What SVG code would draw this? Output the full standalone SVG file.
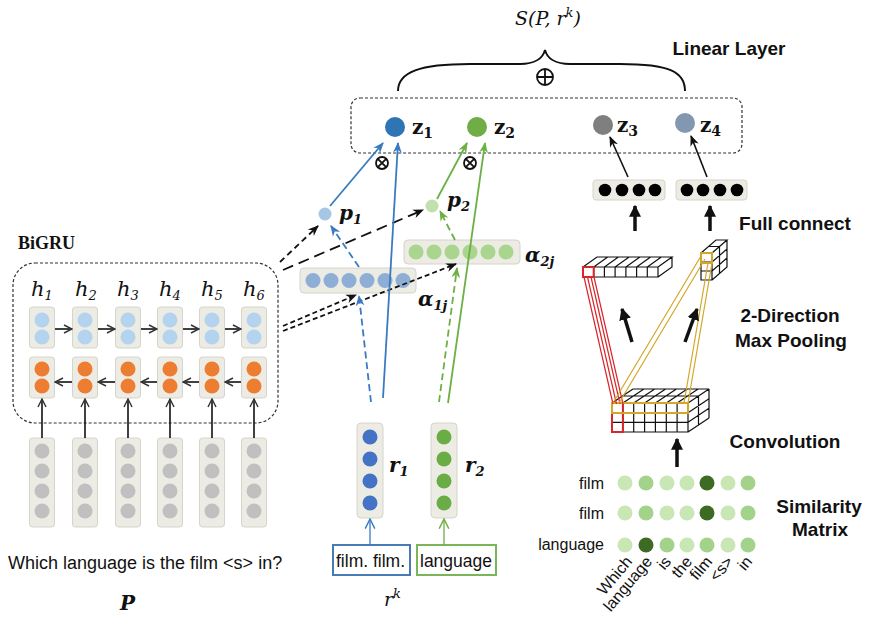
<svg xmlns="http://www.w3.org/2000/svg" width="885" height="637" viewBox="0 0 885 637">
<defs>
<style>
.bx{fill:#ecebe4;stroke:#d6d4cb;stroke-width:1}
.lb{fill:#b4d3ee}.or{fill:#ed7d31}.gy{fill:#c0c0c0}
.dash{fill:none;stroke:#333;stroke-width:1.2;stroke-dasharray:3,2}
.lbl{font-family:"Liberation Sans",Arial,sans-serif;font-weight:bold;font-size:19px;fill:#111;text-anchor:middle}
.sans{font-family:"Liberation Sans",Arial,sans-serif;fill:#111}
.mi{font-family:"DejaVu Serif","Liberation Serif",serif;font-style:italic;fill:#111}
.mb{font-family:"DejaVu Serif","Liberation Serif",serif;font-weight:bold;fill:#111}
.tb{font-family:"Liberation Serif","Times New Roman",serif;font-weight:bold;fill:#111}
.grid{fill:none;stroke:#111;stroke-width:1.2}
.k{stroke:#111;stroke-width:1.6;fill:none}
.kd{stroke:#111;stroke-width:1.8;fill:none}
.bl{stroke:#3a7bc0;stroke-width:1.8;fill:none}
.gr{stroke:#6db044;stroke-width:1.8;fill:none}
.thick{stroke:#111;stroke-width:3.5;fill:none}
.red{stroke:#d9262b;stroke-width:1.2;fill:none}
.org{stroke:#d4a62a;stroke-width:1.2;fill:none}
</style>
<marker id="ak" viewBox="0 0 10 10" refX="9" refY="5" markerWidth="11" markerHeight="11" markerUnits="userSpaceOnUse" orient="auto"><path d="M0,1 L10,5 L0,9 L3,5 z" fill="#111"/></marker>
<marker id="ab" viewBox="0 0 10 10" refX="9" refY="5" markerWidth="11" markerHeight="11" markerUnits="userSpaceOnUse" orient="auto"><path d="M0,1 L10,5 L0,9 L3,5 z" fill="#3a7bc0"/></marker>
<marker id="ag" viewBox="0 0 10 10" refX="9" refY="5" markerWidth="11" markerHeight="11" markerUnits="userSpaceOnUse" orient="auto"><path d="M0,1 L10,5 L0,9 L3,5 z" fill="#6db044"/></marker>
<marker id="ao" viewBox="0 0 10 10" refX="9" refY="5" markerWidth="10" markerHeight="10" markerUnits="userSpaceOnUse" orient="auto"><path d="M1,1 L9,5 L1,9" fill="none" stroke="#333" stroke-width="1.4"/></marker>
<marker id="aob" viewBox="0 0 10 10" refX="9" refY="5" markerWidth="12" markerHeight="12" markerUnits="userSpaceOnUse" orient="auto"><path d="M1,1 L9,5 L1,9" fill="none" stroke="#3a7bc0" stroke-width="1.2"/></marker>
<marker id="aog" viewBox="0 0 10 10" refX="9" refY="5" markerWidth="12" markerHeight="12" markerUnits="userSpaceOnUse" orient="auto"><path d="M1,1 L9,5 L1,9" fill="none" stroke="#6db044" stroke-width="1.2"/></marker>
<marker id="at" viewBox="0 0 10 10" refX="9" refY="5" markerWidth="12" markerHeight="12" markerUnits="userSpaceOnUse" orient="auto"><path d="M0,0 L10,5 L0,10 z" fill="#111"/></marker>
</defs>
<rect width="885" height="637" fill="#fff"/>

<!-- Top: output -->
<g id="output">
<text class="mi" x="548" y="25" font-size="19" text-anchor="middle">S(P, r<tspan font-size="13" dy="-8">k</tspan><tspan dy="8">)</tspan></text>
<path d="M398,91 C398,72 420,64 470,64 L520,64 C535,64 543,58 545,50 C547,58 555,64 570,64 L620,64 C670,64 685,72 685,91" fill="none" stroke="#111" stroke-width="2"/>
<circle cx="545" cy="77" r="8" fill="none" stroke="#111" stroke-width="1.8"/>
<path d="M537,77 H553 M545,69 V85" stroke="#111" stroke-width="1.8"/>
<text class="lbl" x="729" y="55">Linear Layer</text>
</g>

<g id="linear-layer">
<rect x="351" y="98" width="391" height="55" rx="9" class="dash"/>
<circle cx="395" cy="127" r="10" fill="#2e75b6"/>
<text class="mb" x="412" y="134" font-size="20">z<tspan font-size="14" dy="4">1</tspan></text>
<circle cx="477" cy="127" r="10" fill="#70ad47"/>
<text class="mb" x="494" y="134" font-size="20">z<tspan font-size="14" dy="4">2</tspan></text>
<circle cx="603" cy="125" r="10" fill="#7f7f7f"/>
<text class="mb" x="617" y="132" font-size="20">z<tspan font-size="14" dy="4">3</tspan></text>
<circle cx="685" cy="123" r="10" fill="#8497b0"/>
<text class="mb" x="700" y="132" font-size="20">z<tspan font-size="14" dy="4">4</tspan></text>
</g>

<g id="otimes">
<circle cx="382" cy="163" r="6" fill="#fff" stroke="#111" stroke-width="1.8"/>
<path d="M377.8,158.8 L386.2,167.2 M386.2,158.8 L377.8,167.2" stroke="#111" stroke-width="1.8"/>
<circle cx="470" cy="163" r="6" fill="#fff" stroke="#111" stroke-width="1.8"/>
<path d="M465.8,158.8 L474.2,167.2 M474.2,158.8 L465.8,167.2" stroke="#111" stroke-width="1.8"/>
</g>

<!-- BiGRU -->
<g id="bigru">
<text class="tb" x="18" y="249" font-size="18">BiGRU</text>
<rect x="13" y="263" width="265" height="160" rx="22" class="dash"/>
<g class="mi" font-size="21">
<text x="31" y="296">h<tspan font-size="13" dy="4">1</tspan></text>
<text x="75" y="296">h<tspan font-size="13" dy="4">2</tspan></text>
<text x="117" y="296">h<tspan font-size="13" dy="4">3</tspan></text>
<text x="159" y="296">h<tspan font-size="13" dy="4">4</tspan></text>
<text x="201" y="296">h<tspan font-size="13" dy="4">5</tspan></text>
<text x="243" y="296">h<tspan font-size="13" dy="4">6</tspan></text>
</g>
<g>
<rect class="bx" x="29.5" y="307" width="25" height="41" rx="3"/><circle class="lb" cx="42" cy="320" r="7.5"/><circle class="lb" cx="42" cy="337" r="7.5"/>
<rect class="bx" x="72.5" y="307" width="25" height="41" rx="3"/><circle class="lb" cx="85" cy="320" r="7.5"/><circle class="lb" cx="85" cy="337" r="7.5"/>
<rect class="bx" x="115.5" y="307" width="25" height="41" rx="3"/><circle class="lb" cx="128" cy="320" r="7.5"/><circle class="lb" cx="128" cy="337" r="7.5"/>
<rect class="bx" x="157.5" y="307" width="25" height="41" rx="3"/><circle class="lb" cx="170" cy="320" r="7.5"/><circle class="lb" cx="170" cy="337" r="7.5"/>
<rect class="bx" x="199.5" y="307" width="25" height="41" rx="3"/><circle class="lb" cx="212" cy="320" r="7.5"/><circle class="lb" cx="212" cy="337" r="7.5"/>
<rect class="bx" x="241.5" y="307" width="25" height="41" rx="3"/><circle class="lb" cx="254" cy="320" r="7.5"/><circle class="lb" cx="254" cy="337" r="7.5"/>
</g>
<g>
<rect class="bx" x="29.5" y="357" width="25" height="41" rx="3"/><circle class="or" cx="42" cy="369" r="7.5"/><circle class="or" cx="42" cy="386" r="7.5"/>
<rect class="bx" x="72.5" y="357" width="25" height="41" rx="3"/><circle class="or" cx="85" cy="369" r="7.5"/><circle class="or" cx="85" cy="386" r="7.5"/>
<rect class="bx" x="115.5" y="357" width="25" height="41" rx="3"/><circle class="or" cx="128" cy="369" r="7.5"/><circle class="or" cx="128" cy="386" r="7.5"/>
<rect class="bx" x="157.5" y="357" width="25" height="41" rx="3"/><circle class="or" cx="170" cy="369" r="7.5"/><circle class="or" cx="170" cy="386" r="7.5"/>
<rect class="bx" x="199.5" y="357" width="25" height="41" rx="3"/><circle class="or" cx="212" cy="369" r="7.5"/><circle class="or" cx="212" cy="386" r="7.5"/>
<rect class="bx" x="241.5" y="357" width="25" height="41" rx="3"/><circle class="or" cx="254" cy="369" r="7.5"/><circle class="or" cx="254" cy="386" r="7.5"/>
</g>
</g>

<g id="inputs-P">
<g>
<rect class="bx" x="29.5" y="438" width="25" height="89" rx="3"/><circle class="gy" cx="42" cy="451" r="7.5"/><circle class="gy" cx="42" cy="471" r="7.5"/><circle class="gy" cx="42" cy="491" r="7.5"/><circle class="gy" cx="42" cy="511" r="7.5"/>
<rect class="bx" x="72.5" y="438" width="25" height="89" rx="3"/><circle class="gy" cx="85" cy="451" r="7.5"/><circle class="gy" cx="85" cy="471" r="7.5"/><circle class="gy" cx="85" cy="491" r="7.5"/><circle class="gy" cx="85" cy="511" r="7.5"/>
<rect class="bx" x="115.5" y="438" width="25" height="89" rx="3"/><circle class="gy" cx="128" cy="451" r="7.5"/><circle class="gy" cx="128" cy="471" r="7.5"/><circle class="gy" cx="128" cy="491" r="7.5"/><circle class="gy" cx="128" cy="511" r="7.5"/>
<rect class="bx" x="157.5" y="438" width="25" height="89" rx="3"/><circle class="gy" cx="170" cy="451" r="7.5"/><circle class="gy" cx="170" cy="471" r="7.5"/><circle class="gy" cx="170" cy="491" r="7.5"/><circle class="gy" cx="170" cy="511" r="7.5"/>
<rect class="bx" x="199.5" y="438" width="25" height="89" rx="3"/><circle class="gy" cx="212" cy="451" r="7.5"/><circle class="gy" cx="212" cy="471" r="7.5"/><circle class="gy" cx="212" cy="491" r="7.5"/><circle class="gy" cx="212" cy="511" r="7.5"/>
<rect class="bx" x="241.5" y="438" width="25" height="89" rx="3"/><circle class="gy" cx="254" cy="451" r="7.5"/><circle class="gy" cx="254" cy="471" r="7.5"/><circle class="gy" cx="254" cy="491" r="7.5"/><circle class="gy" cx="254" cy="511" r="7.5"/>
</g>
<text class="sans" x="8" y="569" font-size="18">Which language is the film &lt;s&gt; in?</text>
<text class="mb" x="120" y="610" font-size="20" font-style="italic">P</text>
</g>

<!-- attention -->
<g id="alpha1">
<rect class="bx" x="300" y="268" width="116" height="25" rx="4"/>
<g fill="#8eaed6"><circle cx="313" cy="280.5" r="7.5"/><circle cx="331" cy="280.5" r="7.5"/><circle cx="349" cy="280.5" r="7.5"/><circle cx="367" cy="280.5" r="7.5"/><circle cx="385" cy="280.5" r="7.5"/><circle cx="403" cy="280.5" r="7.5"/></g>
<text class="mb" x="418" y="306" font-size="20" font-style="italic">α<tspan font-size="13" dy="4">1j</tspan></text>
</g>
<g id="alpha2">
<rect class="bx" x="404" y="240" width="116" height="24" rx="4"/>
<g fill="#a9d58e"><circle cx="416" cy="252" r="7.5"/><circle cx="434" cy="252" r="7.5"/><circle cx="452" cy="252" r="7.5"/><circle cx="470" cy="252" r="7.5"/><circle cx="488" cy="252" r="7.5"/><circle cx="506" cy="252" r="7.5"/></g>
<text class="mb" x="525" y="262" font-size="20" font-style="italic">α<tspan font-size="13" dy="4">2j</tspan></text>
</g>
<g id="p1">
<circle cx="325" cy="214" r="6.5" fill="#a7c6e6"/>
<text class="mb" x="339" y="220" font-size="20" font-style="italic">p<tspan font-size="13" dy="4">1</tspan></text>
</g>
<g id="p2">
<circle cx="432" cy="206" r="6.5" fill="#c2e0ad"/>
<text class="mb" x="447" y="207" font-size="20" font-style="italic">p<tspan font-size="13" dy="4">2</tspan></text>
</g>

<!-- relations -->
<g id="r1">
<rect class="bx" x="357" y="423" width="26" height="95" rx="4"/>
<g fill="#4472c4"><circle cx="370" cy="437" r="7.5"/><circle cx="370" cy="459" r="7.5"/><circle cx="370" cy="481" r="7.5"/><circle cx="370" cy="503" r="7.5"/></g>
<text class="mb" x="389" y="472" font-size="20" font-style="italic">r<tspan font-size="13" dy="4">1</tspan></text>
</g>
<g id="r2">
<rect class="bx" x="431" y="423" width="26" height="95" rx="4"/>
<g fill="#6aad46"><circle cx="444" cy="437" r="7.5"/><circle cx="444" cy="459" r="7.5"/><circle cx="444" cy="481" r="7.5"/><circle cx="444" cy="503" r="7.5"/></g>
<text class="mb" x="465" y="472" font-size="20" font-style="italic">r<tspan font-size="13" dy="4">2</tspan></text>
</g>
<g id="rel-words">
<rect x="333" y="545" width="77" height="30" fill="#fff" stroke="#4a7ab5" stroke-width="2"/>
<rect x="417" y="545" width="79" height="30" fill="#fff" stroke="#7ab55a" stroke-width="2"/>
<text class="sans" x="336" y="567" font-size="17.5">film. film.</text>
<text class="sans" x="420" y="567" font-size="17.5">language</text>
<text class="mi" x="384" y="606" font-size="19">r<tspan font-size="13" dy="-8">k</tspan></text>
</g>

<!-- right side -->
<g id="fc1">
<rect class="bx" x="593" y="180" width="72" height="20" rx="3"/>
<g fill="#000"><circle cx="605" cy="190" r="6.3"/><circle cx="622" cy="190" r="6.3"/><circle cx="639" cy="190" r="6.3"/><circle cx="655" cy="190" r="6.3"/></g>
</g>
<g id="fc2">
<rect class="bx" x="676" y="180" width="71" height="20" rx="3"/>
<g fill="#000"><circle cx="687" cy="190" r="6.3"/><circle cx="703" cy="190" r="6.3"/><circle cx="720" cy="190" r="6.3"/><circle cx="737" cy="190" r="6.3"/></g>
</g>
<text class="lbl" x="795" y="230">Full connect</text>
<text class="lbl" x="790" y="322">2-Direction</text>
<text class="lbl" x="791" y="347">Max Pooling</text>
<text class="lbl" x="785" y="448">Convolution</text>

<g id="pool-row">
<path class="grid" d="M583,267 H658 V277 H583 Z M593.7,267 V277 M604.4,267 V277 M615.1,267 V277 M625.9,267 V277 M636.6,267 V277 M647.3,267 V277 M583,267 L597,257 H672 L658,267 M593.7,267 L607.7,257 M604.4,267 L618.4,257 M615.1,267 L629.1,257 M625.9,267 L639.9,257 M636.6,267 L650.6,257 M647.3,267 L661.3,257 M672,257 V267 L658,277"/>
<rect x="583" y="267" width="10.7" height="10" fill="none" stroke="#d9262b" stroke-width="2"/>
</g>
<g id="pool-col">
<path class="grid" d="M701,253 H712 V280 H701 Z M701,262 H712 M701,271 H712 M701,253 L716,240 H727 L712,253 M708.5,246.5 H719.5 M727,240 V267 L712,280 M712,262 L727,249 M712,271 L727,258 M719.5,246.5 V273.5"/>
<rect x="701" y="253" width="11" height="10" fill="none" stroke="#d4a62a" stroke-width="2"/>
</g>
<g id="conv-cube">
<path class="grid" d="M612,403 H688 M612,412.7 H688 M612,422.3 H688 M612,432 H688 M612,403 V432 M622.9,403 V432 M633.7,403 V432 M644.6,403 V432 M655.4,403 V432 M666.3,403 V432 M677.1,403 V432 M688,403 V432 M612,403 L633,389 M622.9,403 L643.9,389 M633.7,403 L654.7,389 M644.6,403 L665.6,389 M655.4,403 L676.4,389 M666.3,403 L687.3,389 M677.1,403 L698.1,389 M688,403 L709,389 M622.5,396 H698.5 M633,389 H709 M688,412.7 L709,398.7 M688,422.3 L709,408.3 M688,432 L709,418 M698.5,396 V425 M709,389 V418"/>
<rect x="612" y="403" width="10.9" height="29" fill="none" stroke="#d9262b" stroke-width="2"/>
<rect x="612" y="403" width="76" height="10" fill="none" stroke="#d4a62a" stroke-width="2"/>
</g>
<g id="pool-lines">
<path class="red" d="M584,277 L613,404 M587.5,277 L616.5,404 M591,277 L620,404 M594,277 L623,404"/>
<path class="org" d="M613,403 L701,256 M619,403 L705,259 M684,403 L708,263 M688,403 L712,263"/>
</g>

<g id="sim-matrix">
<g class="sans" font-size="16" text-anchor="end">
<text x="604" y="489">film</text>
<text x="604" y="519">film</text>
<text x="604" y="550">language</text>
</g>
<g>
<circle cx="625" cy="483" r="7.5" fill="#c9e6b5"/><circle cx="646" cy="483" r="7.5" fill="#a3d38b"/><circle cx="667" cy="483" r="7.5" fill="#c9e6b5"/><circle cx="687" cy="483" r="7.5" fill="#c9e6b5"/><circle cx="707" cy="483" r="7.5" fill="#3e6b24"/><circle cx="728" cy="483" r="7.5" fill="#c9e6b5"/><circle cx="748" cy="483" r="7.5" fill="#a3d38b"/>
<circle cx="625" cy="513" r="7.5" fill="#c9e6b5"/><circle cx="646" cy="513" r="7.5" fill="#a3d38b"/><circle cx="667" cy="513" r="7.5" fill="#c9e6b5"/><circle cx="687" cy="513" r="7.5" fill="#c9e6b5"/><circle cx="707" cy="513" r="7.5" fill="#3e6b24"/><circle cx="728" cy="513" r="7.5" fill="#c9e6b5"/><circle cx="748" cy="513" r="7.5" fill="#a3d38b"/>
<circle cx="625" cy="545" r="7.5" fill="#c9e6b5"/><circle cx="646" cy="545" r="7.5" fill="#3e6b24"/><circle cx="667" cy="545" r="7.5" fill="#a3d38b"/><circle cx="687" cy="545" r="7.5" fill="#c9e6b5"/><circle cx="707" cy="545" r="7.5" fill="#a3d38b"/><circle cx="728" cy="545" r="7.5" fill="#c9e6b5"/><circle cx="748" cy="545" r="7.5" fill="#a3d38b"/>
</g>
<g class="sans" font-size="16" text-anchor="end">
<text transform="translate(633,562) rotate(-50)">Which</text>
<text transform="translate(653,562) rotate(-50)">language</text>
<text transform="translate(672,562) rotate(-50)">is</text>
<text transform="translate(693,562) rotate(-50)">the</text>
<text transform="translate(713,562) rotate(-50)">film</text>
<text transform="translate(734,562) rotate(-50)">&lt;s&gt;</text>
<text transform="translate(753,562) rotate(-50)">in</text>
</g>
<text class="lbl" x="819" y="513">Similarity</text>
<text class="lbl" x="820" y="536">Matrix</text>
</g>

<!-- connectors -->
<g id="connectors">
<g class="k" stroke="#333" stroke-width="1.3">
<line x1="55" y1="329" x2="72" y2="329" marker-end="url(#ao)"/>
<line x1="98" y1="329" x2="115" y2="329" marker-end="url(#ao)"/>
<line x1="141" y1="329" x2="157" y2="329" marker-end="url(#ao)"/>
<line x1="183" y1="329" x2="199" y2="329" marker-end="url(#ao)"/>
<line x1="225" y1="329" x2="241" y2="329" marker-end="url(#ao)"/>
<line x1="72" y1="382" x2="55" y2="382" marker-end="url(#ao)"/>
<line x1="115" y1="382" x2="98" y2="382" marker-end="url(#ao)"/>
<line x1="157" y1="382" x2="141" y2="382" marker-end="url(#ao)"/>
<line x1="199" y1="382" x2="183" y2="382" marker-end="url(#ao)"/>
<line x1="241" y1="382" x2="225" y2="382" marker-end="url(#ao)"/>
<line x1="42" y1="438" x2="42" y2="399" marker-end="url(#ao)"/>
<line x1="85" y1="438" x2="85" y2="399" marker-end="url(#ao)"/>
<line x1="128" y1="438" x2="128" y2="399" marker-end="url(#ao)"/>
<line x1="170" y1="438" x2="170" y2="399" marker-end="url(#ao)"/>
<line x1="212" y1="438" x2="212" y2="399" marker-end="url(#ao)"/>
<line x1="254" y1="438" x2="254" y2="399" marker-end="url(#ao)"/>
</g>
<line class="kd" x1="280" y1="262" x2="318" y2="226" stroke-dasharray="6,4" marker-end="url(#ak)"/>
<line class="kd" x1="283" y1="270" x2="423" y2="210" stroke-dasharray="11,6" marker-end="url(#ak)"/>
<line class="kd" x1="283" y1="326" x2="356" y2="295" stroke-dasharray="5,3" marker-end="url(#ak)"/>
<line class="kd" x1="283" y1="331" x2="456" y2="264" stroke-dasharray="5,3" marker-end="url(#ak)"/>
<line x1="370" y1="545" x2="370" y2="519" stroke="#3a7bc0" stroke-width="1.3" marker-end="url(#aob)"/>
<line x1="444" y1="545" x2="444" y2="519" stroke="#6db044" stroke-width="1.3" marker-end="url(#aog)"/>
<line class="bl" x1="371" y1="402" x2="359" y2="296" stroke-dasharray="7,4" marker-end="url(#ab)"/>
<line class="bl" x1="359" y1="267" x2="331" y2="226" stroke-dasharray="7,4" marker-end="url(#ab)"/>
<line class="bl" x1="330" y1="206" x2="383" y2="143" marker-end="url(#ab)"/>
<line class="bl" x1="383" y1="398" x2="398" y2="143" marker-end="url(#ab)"/>
<line class="gr" x1="439" y1="402" x2="457" y2="268" stroke-dasharray="7,4" marker-end="url(#ag)"/>
<line class="gr" x1="455" y1="240" x2="440" y2="211" stroke-dasharray="7,4" marker-end="url(#ag)"/>
<line class="gr" x1="437" y1="199" x2="467" y2="143" marker-end="url(#ag)"/>
<line class="gr" x1="448" y1="403" x2="485" y2="143" marker-end="url(#ag)"/>
<line class="k" x1="628" y1="177" x2="610" y2="137" marker-end="url(#ak)"/>
<line class="k" x1="707" y1="177" x2="691" y2="136" marker-end="url(#ak)"/>
<line class="thick" x1="635" y1="231" x2="635" y2="206" marker-end="url(#at)"/>
<line class="thick" x1="710" y1="231" x2="710" y2="206" marker-end="url(#at)"/>
<line class="thick" x1="632" y1="342" x2="622" y2="309" marker-end="url(#at)"/>
<line class="thick" x1="685" y1="342" x2="697" y2="309" marker-end="url(#at)"/>
<line class="thick" x1="677" y1="467" x2="677" y2="439" marker-end="url(#at)"/>
</g>
</svg>
